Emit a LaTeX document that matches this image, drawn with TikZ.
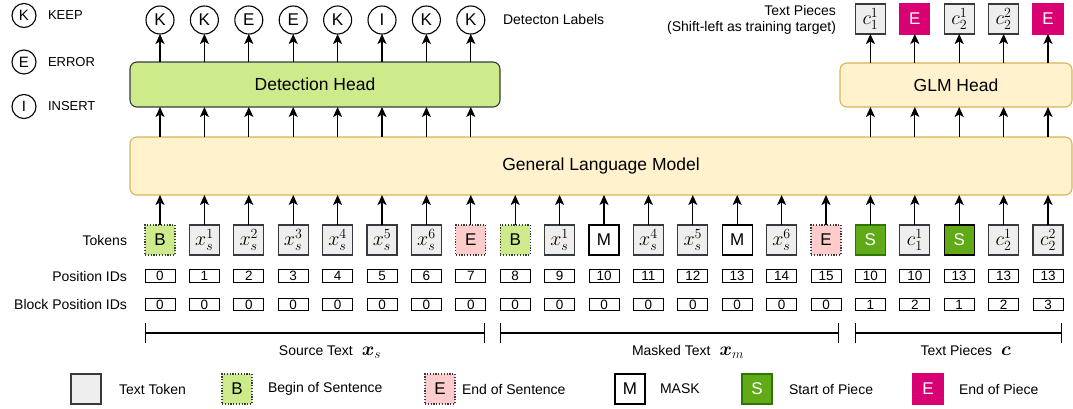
\RequirePackage{fix-cm}
\documentclass[tikz,border=0pt]{standalone}
\usepackage{fontspec}
\usepackage{amsmath}
\usepackage{bm}
\setmainfont{Liberation Sans}
\usetikzlibrary{arrows.meta}
\definecolor{detfill}{HTML}{CDEB8B}
\definecolor{glmfill}{HTML}{FFF2CC}
\definecolor{glmline}{HTML}{D6B656}
\definecolor{darkline}{HTML}{36393D}
\definecolor{tokgray}{HTML}{EEEEEE}
\definecolor{eospink}{HTML}{FFCCCC}
\definecolor{sopgreen}{HTML}{60A917}
\definecolor{sopdark}{HTML}{2D7600}
\definecolor{eopmag}{HTML}{D80073}
\tikzset{
  every node/.style={inner sep=0pt, outer sep=0pt},
  lbl/.style={font=\fontsize{14}{16}\selectfont},
  tok/.style={draw=darkline, line width=1.1pt, minimum width=30pt, minimum height=30pt, font=\fontsize{17}{19}\selectfont},
  texttok/.style={tok, fill=tokgray},
  bos/.style={tok, fill=detfill, dash pattern=on 1.2pt off 1.6pt},
  eos/.style={tok, fill=eospink, dash pattern=on 1.2pt off 1.6pt},
  masktok/.style={tok, draw=black, fill=white},
  sop/.style={tok, fill=sopgreen, draw=sopdark, text=white},
  sopb/.style={tok, fill=sopgreen, draw=black, line width=1.4pt, text=white},
  eop/.style={tok, fill=eopmag, draw=eopmag, text=white},
  idbox/.style={draw=black, line width=0.9pt, minimum width=30pt, minimum height=12.5pt, font=\fontsize{13.5}{14}\selectfont},
  labc/.style={circle, draw=black, line width=1.1pt, minimum size=28pt, font=\fontsize{17}{19}\selectfont},
  legc/.style={circle, draw=black, line width=1.1pt, minimum size=24pt, font=\fontsize{15}{17}\selectfont},
  arr/.style={-{Stealth[length=10pt,width=9pt,inset=2.5pt]}, line width=1.2pt},
  headbox/.style={draw, line width=1.1pt, rounded corners=7pt, font=\fontsize{17.5}{20}\selectfont},
  brk/.style={{Bar[width=20pt]}-{Bar[width=20pt]}, line width=1.1pt},
}
\newcommand{\tm}[1]{{\fontsize{20}{22}\selectfont$#1$}}
\newcommand{\bmath}[2]{{\fontsize{19}{21}\selectfont$\bm{#1}_{#2}$}}
\begin{document}
\begin{tikzpicture}[x=1pt,y=-1pt]
\useasboundingbox (0,0) rectangle (1073,408);

% left legend
\node[legc] (lk) at (24,15.5) {K};
\node[legc] (le) at (24,62) {E};
\node[legc] (li) at (24,106.5) {I};
\node[lbl, anchor=west, font=\fontsize{13}{15}\selectfont] (lkt) at (48,15.5) {KEEP};
\node[lbl, anchor=west, font=\fontsize{13}{15}\selectfont] (let) at (48,62) {ERROR};
\node[lbl, anchor=west, font=\fontsize{13}{15}\selectfont] (lit) at (48,106.5) {INSERT};

% big boxes
\node[headbox, fill=detfill, draw=darkline, minimum width=370pt, minimum height=45pt] (dh) at (315,84.5) {Detection Head};
\node[headbox, fill=glmfill, draw=glmline, minimum width=232pt, minimum height=44pt] (gh) at (956,85) {GLM Head};
\node[headbox, fill=glmfill, draw=glmline, minimum width=942pt, minimum height=58pt] (glm) at (601,166) {General Language Model};

% tokens
\foreach \i/\s/\t in {0/bos/B, 1/texttok/\tm{x_s^1}, 2/texttok/\tm{x_s^2}, 3/texttok/\tm{x_s^3}, 4/texttok/\tm{x_s^4}, 5/texttok/\tm{x_s^5}, 6/texttok/\tm{x_s^6}, 7/eos/E, 8/bos/B, 9/texttok/\tm{x_s^1}, 10/masktok/M, 11/texttok/\tm{x_s^4}, 12/texttok/\tm{x_s^5}, 13/masktok/M, 14/texttok/\tm{x_s^6}, 15/eos/E, 16/sop/S, 17/texttok/\tm{c_1^1}, 18/sopb/S, 19/texttok/\tm{c_2^1}, 20/texttok/\tm{c_2^2}}{
  \node[\s] (t\i) at ({160+44.4*\i},240) {\t};
  \draw[arr] (t\i.north) -- (t\i.north |- glm.south);
}
% position ids
\foreach \i/\p/\b in {0/0/0, 1/1/0, 2/2/0, 3/3/0, 4/4/0, 5/5/0, 6/6/0, 7/7/0, 8/8/0, 9/9/0, 10/10/0, 11/11/0, 12/12/0, 13/13/0, 14/14/0, 15/15/0, 16/10/1, 17/10/2, 18/13/1, 19/13/2, 20/13/3}{
  \node[idbox] (pos\i) at ({160+44.4*\i},276) {\p};
  \node[idbox] (blk\i) at ({160+44.4*\i},304.5) {\b};
}
\node[lbl, anchor=east] (ltok) at (127,240) {Tokens};
\node[lbl, anchor=east] (lpos) at (127,276) {Position IDs};
\node[lbl, anchor=east] (lblk) at (127,304.5) {Block Position IDs};

% detection labels
\foreach \i/\l in {0/K, 1/K, 2/E, 3/E, 4/K, 5/I, 6/K, 7/K}{
  \node[labc] (d\i) at ({160+44.4*\i},20) {\l};
  \draw[arr] (d\i.south |- dh.north) -- (d\i.south);
  \draw[arr] (t\i.north |- glm.north) -- (t\i.north |- dh.south);
}
\node[lbl, anchor=west] (dlab) at (503,19) {Detecton Labels};

% text pieces
\foreach \j/\s/\t in {0/texttok/\tm{c_1^1}, 1/eop/E, 2/texttok/\tm{c_2^1}, 3/texttok/\tm{c_2^2}, 4/eop/E}{
  \pgfmathtruncatemacro{\k}{16+\j}
  \node[\s] (p\j) at ({160+44.4*\k},19) {\t};
  \draw[arr] (p\j.south |- gh.north) -- (p\j.south);
  \draw[arr] (t\k.north |- glm.north) -- (t\k.north |- gh.south);
}
\node[lbl, anchor=east] (tp1) at (836,10) {Text Pieces};
\node[lbl, anchor=east] (tp2) at (836,28) {(Shift-left as training target)};

% brackets
\coordinate (sa) at (145,333); \coordinate (sb) at (485,333);
\coordinate (ma) at (500,333); \coordinate (mb) at (839,333);
\coordinate (ca) at (855,333); \coordinate (cb) at (1062,333);
\draw[brk] (sa) -- (sb);
\draw[brk] (ma) -- (mb);
\draw[brk] (ca) -- (cb);
\node[lbl] (srcl) at (330,352) {Source Text\hspace{9pt}\bmath{x}{s}};
\node[lbl] (mskl) at (688,352) {Masked Text\hspace{9pt}\bmath{x}{m}};
\node[lbl] (pcl) at (966,352) {Text Pieces\hspace{9pt}\bmath{c}{}};

% bottom legend
\node[texttok] (g1) at (86,389) {};
\node[lbl, anchor=west] (g1t) at (119,389) {Text Token};
\node[bos] (g2) at (237,389) {B};
\node[lbl, anchor=west] (g2t) at (268,389) {Begin of Sentence};
\node[eos] (g3) at (440,389) {E};
\node[lbl, anchor=west] (g3t) at (462,389) {End of Sentence};
\node[masktok] (g4) at (630,389) {M};
\node[lbl, anchor=west] (g4t) at (660,389) {MASK};
\node[sop] (g5) at (757,389) {S};
\node[lbl, anchor=west] (g5t) at (789,389) {Start of Piece};
\node[eop] (g6) at (928,389) {E};
\node[lbl, anchor=west] (g6t) at (959,389) {End of Piece};
\end{tikzpicture}
\end{document}
